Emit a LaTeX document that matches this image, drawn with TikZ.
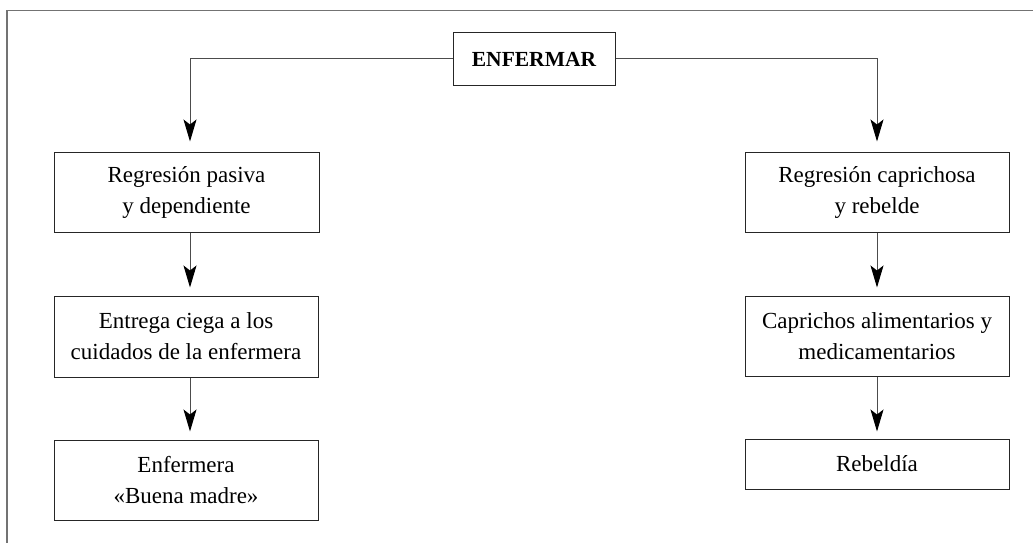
\documentclass[tikz,border=0pt]{standalone}
\usepackage{fontspec}
\setmainfont{Liberation Serif}
\usetikzlibrary{arrows.meta}
\begin{document}
\begin{tikzpicture}[x=1pt,y=-1pt,
  box/.style={draw=black!85,line width=1pt,minimum width=264pt,minimum height=80pt,
    inner sep=0pt,align=center,font=\fontsize{23}{31}\selectfont},
  conn/.style={draw=black!70,line width=1pt,
    -{Stealth[length=22pt,width=13pt,inset=5pt,black]}},
  frame/.style={draw=black!55,line width=1.6pt}]
\useasboundingbox (0,0) rectangle (1033,543);
% outer frame (only top and left sides fall inside the page)
\draw[frame] (1034,10.5) -- (7,10.5) -- (7,544);

% root
\node[box,minimum width=162pt,minimum height=52pt,font=\fontsize{21.5}{31}\selectfont\bfseries]
  (top) at (534,59) {ENFERMAR};

% left column
\node[box,minimum width=265pt] (L1) at (186.5,192) {Regresión pasiva\\y dependiente};
\node[box,minimum height=81pt] (L2) at (186,336.5) {Entrega ciega a los\\cuidados de la enfermera};
\node[box] (L3) at (186,480) {Enfermera\\«Buena madre»};

% right column
\node[box] (R1) at (877,192) {Regresión caprichosa\\y rebelde};
\node[box] (R2) at (877,336) {Caprichos alimentarios y\\medicamentarios};
\node[box,minimum height=50pt] (R3) at (877,464) {Rebeldía};

% connector columns
\coordinate (lx) at (190,0);
\coordinate (rx) at (877,0);

\draw[conn,shorten >=10pt] (top.west) -| (L1.north -| lx);
\draw[conn,shorten >=8pt] (L1.south -| lx) -- (L2.north -| lx);
\draw[conn,shorten >=8pt] (L2.south -| lx) -- (L3.north -| lx);

\draw[conn,shorten >=10pt] (top.east) -| (R1.north -| rx);
\draw[conn,shorten >=8pt] (R1.south -| rx) -- (R2.north -| rx);
\draw[conn,shorten >=7pt] (R2.south -| rx) -- (R3.north -| rx);
\end{tikzpicture}
\end{document}
